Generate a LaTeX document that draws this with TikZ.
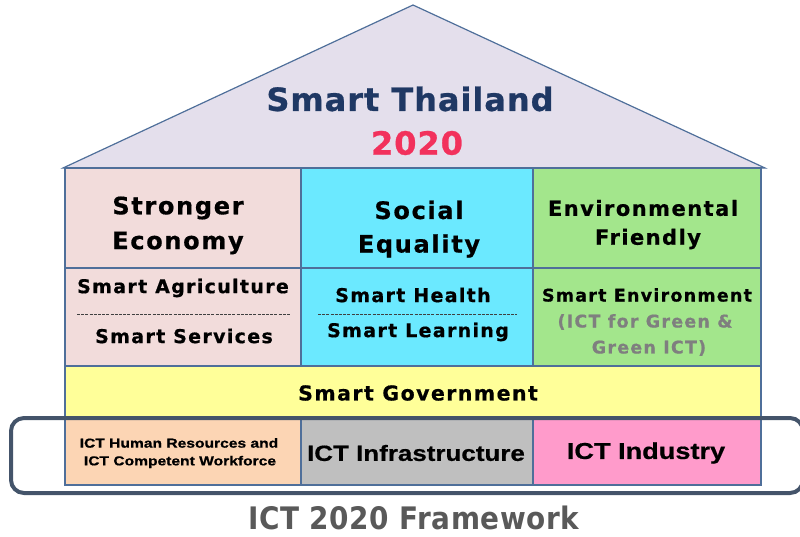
\documentclass[tikz,border=0pt]{standalone}
\usepackage{fontspec}
\setmainfont{DejaVu Sans}
\newfontfamily\vfont[LetterSpace=7,FakeBold=0.6]{DejaVu Sans Bold}
\newfontfamily\hfont[LetterSpace=3,FakeBold=0.8]{DejaVu Sans Bold}
\newfontfamily\arialfont[FakeBold=0.6]{Liberation Sans Bold}
\newfontfamily\condfont[LetterSpace=2]{DejaVu Sans Condensed Bold}
\newcommand{\fs}[1]{\fontsize{#1}{#1}\selectfont}
\newcommand{\wx}[2]{\scalebox{#1}[1]{#2}}
\definecolor{roofc}{HTML}{E4DFEC}
\definecolor{edgec}{HTML}{4F6F9A}
\definecolor{pinkc}{HTML}{F2DCDB}
\definecolor{cyanc}{HTML}{6BE9FF}
\definecolor{greenc}{HTML}{A3E68C}
\definecolor{yellc}{HTML}{FFFF99}
\definecolor{orangec}{HTML}{FCD5B4}
\definecolor{grayc}{HTML}{BFBFBF}
\definecolor{magc}{HTML}{FF9BCB}
\definecolor{navyc}{HTML}{1F3864}
\definecolor{redc}{HTML}{F2315C}
\definecolor{framec}{HTML}{44546A}
\definecolor{subgray}{HTML}{7F7F7F}
\definecolor{titlegray}{HTML}{595959}
\begin{document}
\begin{tikzpicture}[x=1pt,y=-1pt,
  cell/.style={draw=edgec,line width=1.2pt,inner sep=0pt},
  lbl/.style={inner sep=0pt,align=center},
  sep/.style={black!75,dash pattern=on 3pt off 1.2pt,line width=0.6pt}]
\useasboundingbox (0,0) rectangle (800,536);
% roof
\draw[fill=roofc,draw=edgec,line width=1.2pt] (63,168) -- (413,5) -- (765,168) -- cycle;
% cells
\path[cell,fill=pinkc]   (65,168) rectangle (301,268);
\path[cell,fill=cyanc]   (301,168) rectangle (533,268);
\path[cell,fill=greenc]  (533,168) rectangle (761,268);
\path[cell,fill=pinkc]   (65,268) rectangle (301,366);
\path[cell,fill=cyanc]   (301,268) rectangle (533,366);
\path[cell,fill=greenc]  (533,268) rectangle (761,366);
\path[cell,fill=yellc]   (65,366) rectangle (761,418);
\path[cell,fill=orangec] (65,418) rectangle (301,485);
\path[cell,fill=grayc]   (301,418) rectangle (533,485);
\path[cell,fill=magc]    (533,418) rectangle (761,485);
% frame
\draw[framec,line width=4pt,rounded corners=13pt] (11,418) rectangle (803,493);
% dashed separators
\draw[sep] (77,314) -- (290,314);
\draw[sep] (318,314) -- (517,314);
% texts
\node[lbl,text=navyc,font=\hfont\fs{32}] (t1) at (410,99) {Smart Thailand};
\node[lbl,text=redc,font=\hfont\fs{32}] (t2) at (417,143) {2020};
\node[lbl,font=\vfont\fs{24}] (a1) at (178,208) {Stronger};
\node[lbl,font=\vfont\fs{24}] (a2) at (178,243) {Economy};
\node[lbl,font=\vfont\fs{24}] (b1) at (419,210) {Social};
\node[lbl,font=\vfont\fs{24}] (b2) at (419,246) {Equality};
\node[lbl,font=\vfont\fs{21}] (c1) at (643,208) {Environmental};
\node[lbl,font=\vfont\fs{21}] (c2) at (648,239) {Friendly};
\node[lbl,font=\vfont\fs{19}] (a3) at (183,288) {Smart Agriculture};
\node[lbl,font=\vfont\fs{19}] (a4) at (184,336) {Smart Services};
\node[lbl,font=\vfont\fs{19}] (b3) at (413,295) {Smart Health};
\node[lbl,font=\vfont\fs{19}] (b4) at (418,332) {Smart Learning};
\node[lbl,font=\vfont\fs{17.5}] (c3) at (647,295) {Smart Environment};
\node[lbl,text=subgray,font=\vfont\fs{17.5}] (c4) at (645,322) {(ICT for Green \&};
\node[lbl,text=subgray,font=\vfont\fs{17.5}] (c5) at (649,348) {Green ICT)};
\node[lbl,font=\vfont\fs{20.5}] (g) at (418,393) {Smart Government};
\node[lbl,font=\arialfont\fs{13}] (h1) at (179,443) {\wx{1.2}{ICT Human Resources and}};
\node[lbl,font=\arialfont\fs{13}] (h2) at (180,462) {\wx{1.2}{ICT Competent Workforce}};
\node[lbl,font=\arialfont\fs{22}] (h3) at (416,453) {\wx{1.18}{ICT Infrastructure}};
\node[lbl,font=\arialfont\fs{23}] (h4) at (646,453) {\wx{1.18}{ICT Industry}};
\node[lbl,text=titlegray,font=\condfont\fs{31}] (ti) at (414,518) {ICT 2020 Framework};
\end{tikzpicture}
\end{document}
